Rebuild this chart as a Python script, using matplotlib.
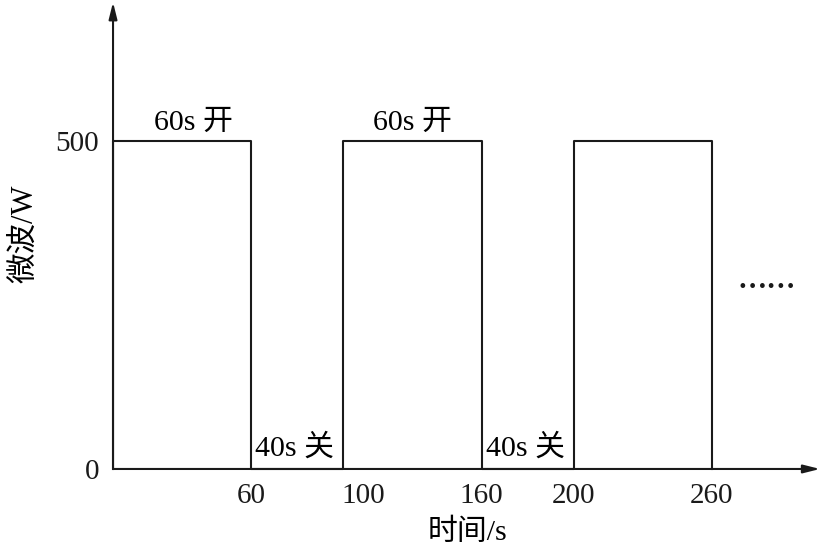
import matplotlib
matplotlib.use("Agg")
import matplotlib.pyplot as plt
import matplotlib.transforms as mtransforms

plt.rcParams["font.family"] = ["Liberation Serif", "Noto Sans CJK SC"]

# data
pulse_on = [0, 100, 200]
pulse_off = [60, 160, 260]
power = 500
xticks = [60, 100, 160, 200, 260]
yticks = [0, 500]
on_labels_x = [35, 130]
off_labels_x = [79, 179]

fig = plt.figure(figsize=(8.25, 5.55), dpi=100)
ax = fig.add_axes([0.137, 0.155, 0.857, 0.841])
ax.set_xlim(0, 307)
ax.set_ylim(0, 712)

# square wave
xs, ys = [], []
for a, b in zip(pulse_on, pulse_off):
    xs += [a, a, b, b]
    ys += [0, power, power, 0]
ax.plot(xs, ys, color="#1a1a1a", lw=1.5, clip_on=False)

for x in on_labels_x:
    ax.text(x, 517, "60s 开", fontsize=21.5, ha="center", va="baseline")
for x in off_labels_x:
    ax.text(x, 21, "40s 关", fontsize=21.5, ha="center", va="baseline")

# trailing dots
ax.text(284, 276, "……", fontsize=21, ha="center", va="center",
        family="Noto Sans CJK SC", color="#1a1a1a", fontweight="bold")

# axes with arrows
for s in ax.spines.values():
    s.set_visible(False)
ax.annotate("", xy=(1.0, 0), xytext=(0, 0), xycoords="axes fraction",
            arrowprops=dict(arrowstyle="-|>,head_length=1.0,head_width=0.25",
                            color="#1a1a1a", lw=1.5, shrinkA=0, shrinkB=0))
ax.annotate("", xy=(0, 1.0), xytext=(0, 0), xycoords="axes fraction",
            arrowprops=dict(arrowstyle="-|>,head_length=1.0,head_width=0.25",
                            color="#1a1a1a", lw=1.5, shrinkA=0, shrinkB=0))

ax.set_xticks(xticks)
ax.set_yticks(yticks)
ax.tick_params(length=0, labelsize=21, pad=10, colors="#1a1a1a")
# the 100 label sits a bit right of its edge in the original
lbl = ax.get_xticklabels()[1]
lbl.set_transform(lbl.get_transform() +
                  mtransforms.ScaledTranslation(0.2, 0, fig.dpi_scale_trans))

ax.set_xlabel("时间/s", fontsize=21.5)
ax.xaxis.set_label_coords(0.502, -0.107)
ax.set_ylabel("微波/W", fontsize=22)
ax.yaxis.set_label_coords(-0.104, 0.505)

fig.savefig("out.png", dpi=100)
